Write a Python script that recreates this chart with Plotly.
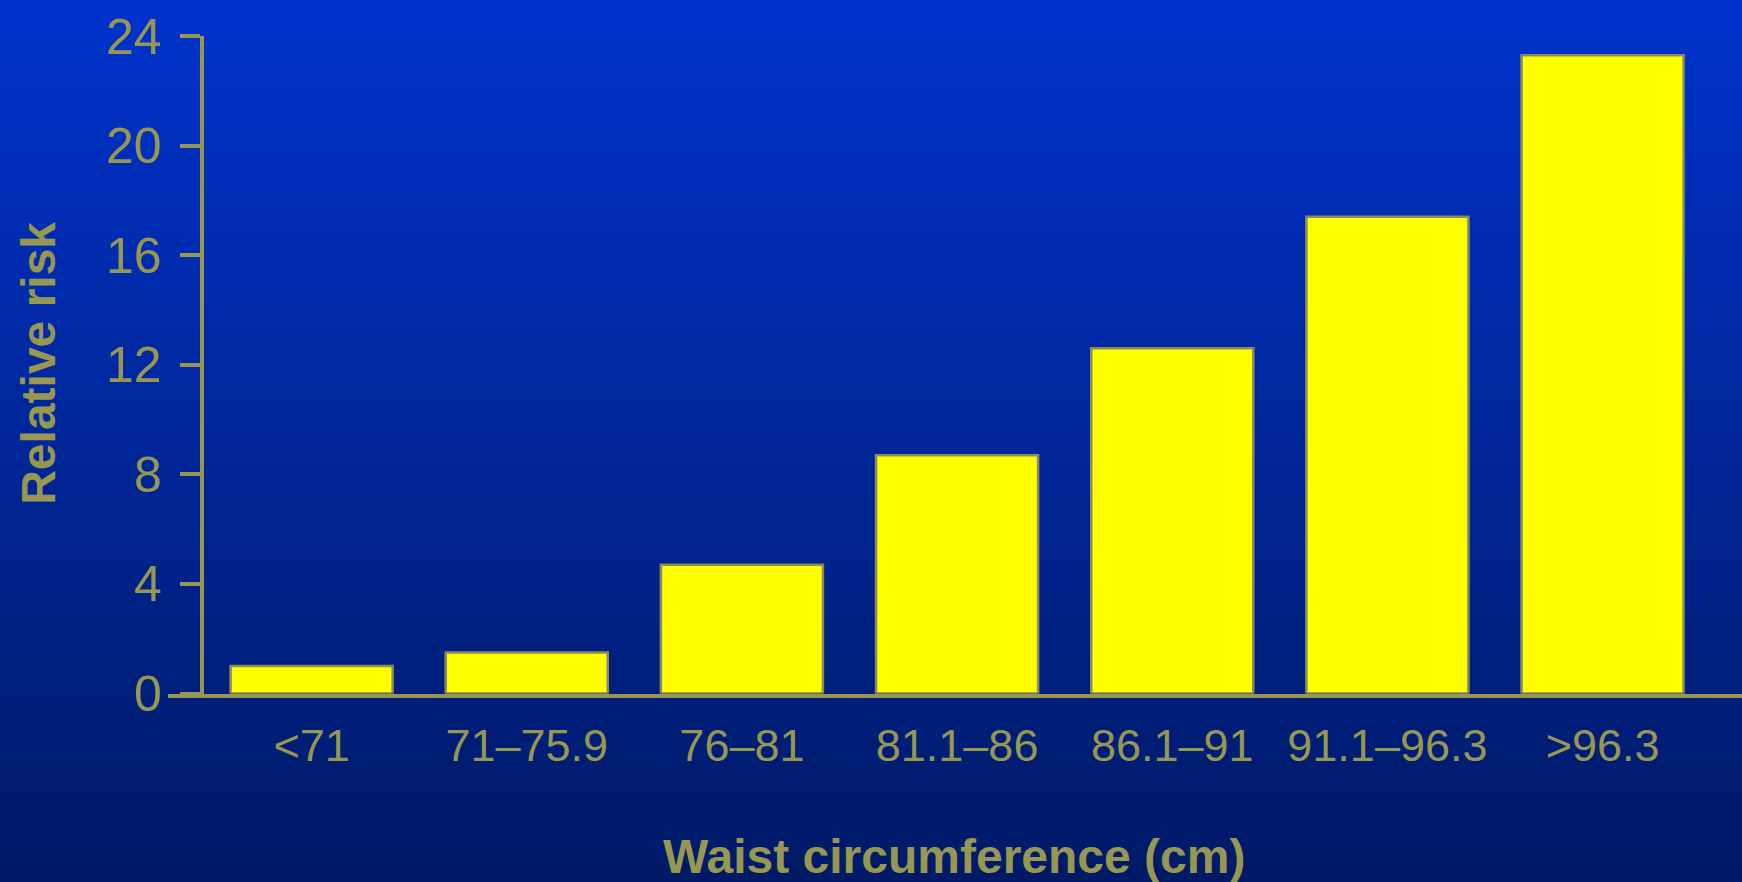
import plotly.graph_objects as go

# ---- data ----
categories = ["<71", "71–75.9", "76–81", "81.1–86", "86.1–91", "91.1–96.3", ">96.3"]
relative_risk = [1.0, 1.5, 4.7, 8.7, 12.6, 17.4, 23.3]
y_tick_values = [0, 4, 8, 12, 16, 20, 24]
y_tick_labels = ["0", "4", "8", "12", "16", "20", "24"]
x_title = "Waist circumference (cm)"
y_title = "Relative risk"

W, H = 1742, 882
OLIVE = "#979752"
FONT = "Liberation Sans, Arial, sans-serif"

fig = go.Figure()
fig.add_trace(go.Bar(
    x=list(range(len(categories))),
    y=relative_risk,
    marker=dict(color="#FFFF00", line=dict(color="#8C8C5A", width=2.5)),
    hoverinfo="skip",
))

# background vertical gradient (styling only)
top_c = (0, 51, 204)
bot_c = (0, 26, 102)
n_strips = 147
shapes = []
for i in range(n_strips):
    t = (i + 0.5) / n_strips
    c = tuple(round(top_c[k] + (bot_c[k] - top_c[k]) * t) for k in range(3))
    y1 = 1 - i / n_strips
    y0 = 1 - (i + 1) / n_strips - 0.002
    shapes.append(dict(type="rect", xref="paper", yref="paper", x0=0, x1=1,
                       y0=max(y0, 0), y1=y1, fillcolor="rgb(%d,%d,%d)" % c,
                       line=dict(width=0), layer="below"))

x_left_px, x_right_px = 168.3, 1742
y_axis_px = 201.7
y_top_px, y_zero_px = 36.0, 693.5

fig.update_layout(
    width=W, height=H, autosize=False,
    margin=dict(l=0, r=0, t=0, b=0, pad=0),
    paper_bgcolor="rgb(0,38,150)",
    plot_bgcolor="rgba(0,0,0,0)",
    showlegend=False,
    bargap=0.247,
    shapes=shapes,
    xaxis=dict(
        domain=[x_left_px / W, x_right_px / W],
        range=[-0.666, 6.648],
        tickmode="array", tickvals=list(range(len(categories))), ticktext=categories,
        showline=True, linecolor=OLIVE, linewidth=4,
        ticks="", showgrid=False, zeroline=False,
        tickfont=dict(family=FONT, size=45, color=OLIVE),
        ticklabelstandoff=9,
        automargin=False,
        fixedrange=True,
    ),
    yaxis=dict(
        domain=[(H - y_zero_px) / H, (H - y_top_px) / H],
        range=[0, 24],
        anchor="free", position=y_axis_px / W,
        tickmode="array", tickvals=y_tick_values, ticktext=y_tick_labels,
        showline=True, linecolor=OLIVE, linewidth=4,
        ticks="outside", ticklen=20, tickwidth=4, tickcolor=OLIVE,
        showgrid=False, zeroline=False,
        tickfont=dict(family=FONT, size=50, color=OLIVE),
        ticklabelstandoff=8,
        automargin=False,
        fixedrange=True,
    ),
    annotations=[
        dict(text="<b>%s</b>" % x_title, xref="paper", yref="paper",
             x=953.6 / W, y=1 - 856 / H, xanchor="center", yanchor="middle",
             showarrow=False, font=dict(family=FONT, size=48, color=OLIVE)),
        dict(text="<b>%s</b>" % y_title, xref="paper", yref="paper",
             x=37.8 / W, y=1 - 363 / H, xanchor="center", yanchor="middle",
             textangle=-90, showarrow=False,
             font=dict(family=FONT, size=48, color=OLIVE)),
    ],
)

fig.write_html(
    "out.html",
    config=dict(displayModeBar=False),
    post_script="document.body.style.margin='0';document.body.style.overflow='hidden';",
)
